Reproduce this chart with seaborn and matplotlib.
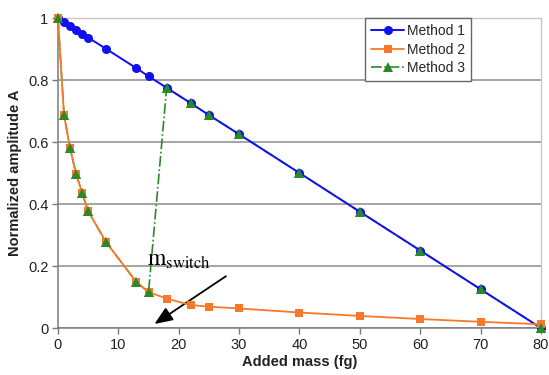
import matplotlib
matplotlib.use('Agg')
import matplotlib.pyplot as plt
import seaborn as sns

# added mass (fg) at which each method was evaluated
mass = [0, 1, 2, 3, 4, 5, 8, 13, 15, 18, 22, 25, 30, 40, 50, 60, 70, 80]

method1 = [1.0, 0.987, 0.975, 0.962, 0.95, 0.937, 0.9, 0.838, 0.812, 0.775,
           0.725, 0.687, 0.625, 0.5, 0.375, 0.25, 0.125, 0.0]
method2 = [1.0, 0.687, 0.58, 0.497, 0.436, 0.377, 0.276, 0.148, 0.116, 0.095,
           0.074, 0.069, 0.063, 0.05, 0.039, 0.029, 0.02, 0.012]
method3 = [1.0, 0.687, 0.58, 0.497, 0.436, 0.377, 0.276, 0.148, 0.116, 0.775,
           0.725, 0.687, 0.625, 0.5, 0.375, 0.25, 0.125, 0.0]

yticks = [0, 0.2, 0.4, 0.6, 0.8, 1.0]
ytick_labels = ['0', '0.2', '0.4', '0.6', '0.8', '1']
xticks = [0, 10, 20, 30, 40, 50, 60, 70, 80]

sns.set_style('white')
plt.rcParams['font.family'] = ['Liberation Sans', 'DejaVu Sans']
plt.rcParams['mathtext.fontset'] = 'stix'

fig = plt.figure(figsize=(5.49, 3.75), dpi=100)
ax = fig.add_axes([0.1056, 0.1253, 0.8798, 0.8267])

sns.lineplot(x=mass, y=method3, ax=ax, color='#2a8a2a', marker='^', markersize=7,
             markeredgewidth=0, linewidth=1.2, linestyle='-.', label='Method 3',
             clip_on=False, zorder=3)
sns.lineplot(x=mass, y=method1, ax=ax, color='#1010f0', marker='o', markersize=6.5,
             markeredgewidth=0, linewidth=1.4, label='Method 1', clip_on=False, zorder=4)
sns.lineplot(x=mass, y=method2, ax=ax, color='#f7782a', marker='s', markersize=5.5,
             markeredgewidth=0, linewidth=1.3, label='Method 2', clip_on=False, zorder=5)
# green triangles on top of the other markers, as in the original
ax.plot(mass, method3, linestyle='none', marker='^', markersize=7, color='#2a8a2a',
        markeredgewidth=0, clip_on=False, zorder=6)

ax.set_xlim(0, 80)
ax.set_ylim(0, 1)
ax.set_xticks(xticks)
ax.set_yticks(yticks)
ax.set_yticklabels(ytick_labels)
ax.tick_params(axis='both', labelsize=10.5, colors='#7a7a7a', length=4, width=1,
               direction='out', left=True, bottom=True, pad=3)
for lbl in ax.get_xticklabels() + ax.get_yticklabels():
    lbl.set_color('#222222')
ax.yaxis.grid(True, color='#8c8c8c', linewidth=1.1)
ax.set_axisbelow(True)

for side in ['left', 'bottom']:
    ax.spines[side].set_color('#7a7a7a')
    ax.spines[side].set_linewidth(1.1)
for side in ['top', 'right']:
    ax.spines[side].set_color('#c8c8c8')
    ax.spines[side].set_linewidth(1.0)

ax.set_xlabel('Added mass (fg)', fontsize=10.5, fontweight='bold', color='#222222', labelpad=2)
ax.set_ylabel('Normalized amplitude A', fontsize=10.5, fontweight='bold', color='#222222', labelpad=4)

handles, labels = ax.get_legend_handles_labels()
order = [labels.index(n) for n in ['Method 1', 'Method 2', 'Method 3']]
leg = ax.legend([handles[i] for i in order], [labels[i] for i in order],
                loc='upper left', bbox_to_anchor=(0.635, 1.0), fontsize=10,
                frameon=True, fancybox=False, edgecolor='#666666', framealpha=1,
                borderpad=0.45, labelspacing=0.32, handlelength=2.4, handletextpad=0.2,
                borderaxespad=0)
leg.get_frame().set_linewidth(1.0)

# switching point annotation
ax.annotate('', xy=(15.6, 0.008), xytext=(28.2, 0.172),
            arrowprops=dict(arrowstyle='-|>,head_length=1.1,head_width=0.45',
                            color='black', linewidth=1.3))
ax.text(14.7, 0.2, r'$\mathrm{m}_{\mathrm{switch}}$', fontsize=17, color='black')

fig.savefig('out.png', dpi=100)
